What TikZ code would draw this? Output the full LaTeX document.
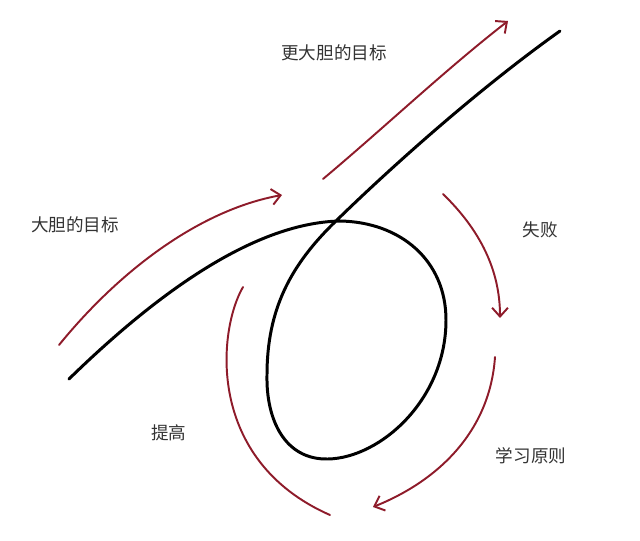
\documentclass[tikz,border=0pt]{standalone}
\usepackage{fontspec}
\newfontfamily\cjk{Noto Sans CJK SC}
\usetikzlibrary{arrows.meta}
\definecolor{arrowred}{HTML}{8E1B2A}
\definecolor{txtgray}{HTML}{333333}
\begin{document}
\begin{tikzpicture}[x=0.02cm,y=-0.02cm,
  blackline/.style={line width=1.7pt,black,line cap=round},
  redarrow/.style={line width=1.1pt,arrowred,line cap=round,-{Straight Barb[length=5pt,width=9pt,line width=1.1pt]}},
  redline/.style={line width=1.1pt,arrowred,line cap=round},
  lbl/.style={font=\cjk\fontsize{10pt}{12pt}\selectfont,text=txtgray,inner sep=0pt}]
\useasboundingbox[fill=white] (0,0) rectangle (640,541);
% black path
\draw[blackline] (69,379) .. controls (150,300) and (250,223) .. (340,221)
  .. controls (400,222) and (446,260) .. (446,320)
  .. controls (446,400) and (380,458) .. (328,459)
  .. controls (285,460) and (266,420) .. (267,375)
  .. controls (267,310) and (290,265) .. (337,220)
  .. controls (380,178) and (470,95) .. (560,31);
% red arrows
\draw[redarrow] (59,345) .. controls (120,270) and (200,210) .. (282,195);
\draw[redarrow] (323,179) .. controls (385,127) and (445,70) .. (508,21);
\draw[redarrow] (443,194) .. controls (480,230) and (500,270) .. (500,318);
\draw[redarrow] (495,357) .. controls (490,430) and (440,480) .. (373,507);
\draw[redline] (243,287) .. controls (218,330) and (205,460) .. (330,515);
% labels
\node[lbl] (t1) at (334,53) {更大胆的目标};
\node[lbl] (t2) at (75,225) {大胆的目标};
\node[lbl] (t3) at (540,230) {失败};
\node[lbl] (t4) at (169,433) {提高};
\node[lbl] (t5) at (531,456) {学习原则};
\end{tikzpicture}
\end{document}
